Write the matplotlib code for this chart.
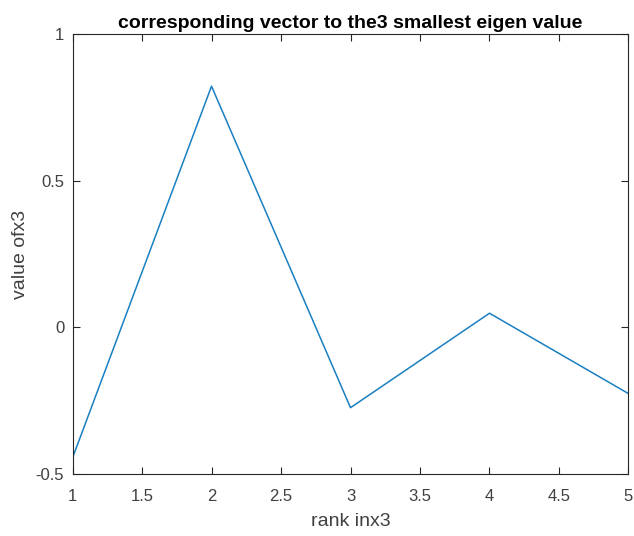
import matplotlib
matplotlib.use("Agg")
import matplotlib.pyplot as plt

rank = [1, 2, 3, 4, 5]
values = [-0.445, 0.822, -0.274, 0.048, -0.226]
xticks = [1, 1.5, 2, 2.5, 3, 3.5, 4, 4.5, 5]
yticks = [-0.5, 0, 0.5, 1]

plt.rcParams['font.family'] = ['Liberation Sans', 'DejaVu Sans']
fig = plt.figure(figsize=(6.34, 5.36), dpi=100)
ax = fig.add_axes([0.1144, 0.1157, 0.9913 - 0.1144, 0.9366 - 0.1157])
ax.plot(rank, values, color='#1a7fc1', lw=1.1)
ax.set_xlim(1, 5)
ax.set_ylim(-0.5, 1)
ax.set_xticks(xticks)
ax.set_xticklabels([f"{t:g}" for t in xticks])
ax.set_yticks(yticks)
ax.set_yticklabels([f"{t:g}" for t in yticks])
dark = '#262626'
gray = '#404040'
for s in ax.spines.values():
    s.set_color(dark)
    s.set_linewidth(0.8)
ax.tick_params(direction='in', top=True, right=True, color=dark, labelcolor=gray,
               labelsize=12, length=5, width=0.8)
ax.tick_params(axis='x', pad=11)
ax.tick_params(axis='y', pad=6)
ax.set_xlabel('rank inx3', fontsize=14, color=gray, labelpad=6)
ax.set_ylabel('value ofx3', fontsize=14, color=gray, labelpad=5)
ax.set_title('corresponding vector to the3 smallest eigen value', fontsize=14,
             fontweight='bold', color='black', pad=4)
fig.savefig('out.png', dpi=100, facecolor='white')
